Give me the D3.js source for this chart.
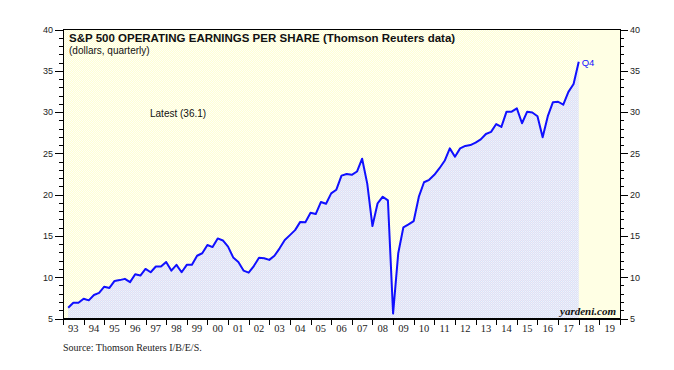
<!DOCTYPE html>
<html>
<head>
<meta charset="utf-8">
<script src="https://cdn.jsdelivr.net/npm/d3@7"></script>
<style>
  body { margin: 0; background: #fff; }
  svg { display: block; }
  .axis text { font-family: "Liberation Sans", Arial, sans-serif; font-size: 9px; fill: #222; }
  .axis path, .axis line { stroke: #000; shape-rendering: crispEdges; }
</style>
</head>
<body>
<div id="chart"></div>
<script>
// S&P 500 operating EPS, quarterly, 1993Q1 .. 2017Q4
var startYear = 1993;
var eps = [
  6.3, 6.9, 6.9, 7.4,        // 93
  7.2, 7.85, 8.1, 8.85,      // 94
  8.7, 9.55, 9.65, 9.8,      // 95
  9.4, 10.35, 10.2, 11.0,    // 96
  10.6, 11.3, 11.3, 11.85,   // 97
  10.8, 11.5, 10.6, 11.5,    // 98
  11.5, 12.6, 12.9, 13.9,    // 99
  13.65, 14.7, 14.45, 13.7,  // 00
  12.4, 11.85, 10.8, 10.55,  // 01
  11.35, 12.35, 12.3, 12.1,  // 02
  12.6, 13.5, 14.5, 15.1,    // 03
  15.7, 16.7, 16.65, 17.8,   // 04
  17.65, 19.1, 18.9, 20.15,  // 05
  20.6, 22.3, 22.5, 22.4,    // 06
  22.8, 24.35, 21.3, 16.2,   // 07
  18.95, 19.75, 19.3, 5.6,   // 08
  12.9, 16.05, 16.4, 16.8,   // 09
  19.75, 21.5, 21.8, 22.4,   // 10
  23.2, 24.1, 25.6, 24.6,    // 11
  25.6, 25.9, 26.0, 26.3,    // 12
  26.7, 27.35, 27.6, 28.55,  // 13
  28.2, 30.05, 30.05, 30.45, // 14
  28.65, 30.05, 29.95, 29.5, // 15
  26.95, 29.5, 31.2, 31.25,  // 16
  30.9, 32.45, 33.4, 36.1    // 17
];
var yearLabels = ["93","94","95","96","97","98","99","00","01","02","03","04","05","06",
                  "07","08","09","10","11","12","13","14","15","16","17","18","19"];
var yTicks = [5, 10, 15, 20, 25, 30, 35, 40];
var latest = eps[eps.length - 1];

var W = 674, H = 370;
var margin = {top: 29.5, right: 54, bottom: 51.5, left: 63};
var x0 = margin.left, x1 = W - margin.right;
var y0 = margin.top, y1 = H - margin.bottom;

var x = d3.scaleLinear().domain([1993, 2020]).range([x0, x1]);
var y = d3.scaleLinear().domain([5, 40]).range([y1, y0]);

var data = eps.map(function(v, i){ return {t: startYear + (i + 1) / 4, v: v}; });

var svg = d3.select("#chart").append("svg")
    .attr("width", W).attr("height", H);

var defs = svg.append("defs");
// dithered yellow like the original gif
var py = defs.append("pattern").attr("id","dy").attr("width",2).attr("height",2)
    .attr("patternUnits","userSpaceOnUse");
py.append("rect").attr("width",2).attr("height",2).attr("fill","#ffffd4");
py.append("rect").attr("width",1).attr("height",1).attr("fill","#fffff6");
py.append("rect").attr("x",1).attr("y",1).attr("width",1).attr("height",1).attr("fill","#fffff6");
// dithered pale blue under the line
var pb = defs.append("pattern").attr("id","db").attr("width",2).attr("height",2)
    .attr("patternUnits","userSpaceOnUse");
pb.append("rect").attr("width",2).attr("height",2).attr("fill","#dbe2f8");
pb.append("rect").attr("width",1).attr("height",1).attr("fill","#eeeaf4");
pb.append("rect").attr("x",1).attr("y",1).attr("width",1).attr("height",1).attr("fill","#f0f3fa");

var lastT = data[data.length - 1].t;

// backgrounds
svg.append("rect").attr("x", x0).attr("y", y0)
    .attr("width", x(lastT) - x0).attr("height", y1 - y0).attr("fill", "url(#dy)");
svg.append("rect").attr("x", x(lastT)).attr("y", y0)
    .attr("width", x1 - x(lastT)).attr("height", y1 - y0).attr("fill", "#ffffe4");

var area = d3.area().x(function(d){ return x(d.t); })
    .y0(y1).y1(function(d){ return y(d.v); });
svg.append("path").datum(data).attr("d", area).attr("fill", "url(#db)");

var line = d3.line().x(function(d){ return x(d.t); }).y(function(d){ return y(d.v); });
svg.append("path").datum(data).attr("d", line)
    .attr("fill", "none").attr("stroke", "#1010ff").attr("stroke-width", 2)
    .attr("stroke-linejoin", "round");

// frame
svg.append("rect").attr("x", x0).attr("y", y0).attr("width", x1 - x0).attr("height", y1 - y0)
    .attr("fill", "none").attr("stroke", "#000").attr("shape-rendering", "crispEdges");

// left axis
svg.append("g").attr("class", "axis").attr("transform", "translate(" + x0 + ",0)")
    .call(d3.axisLeft(y).tickValues(d3.range(5, 41, 1)).tickSize(4).tickFormat(""))
    .call(function(g){ g.select(".domain").remove(); });
svg.append("g").attr("class", "axis").attr("transform", "translate(" + x0 + ",0)")
    .call(d3.axisLeft(y).tickValues(yTicks).tickSize(8).tickPadding(2).tickFormat(d3.format("d")));

// right axis
svg.append("g").attr("class", "axis").attr("transform", "translate(" + x1 + ",0)")
    .call(d3.axisRight(y).tickValues(d3.range(5, 41, 1)).tickSize(4).tickFormat(""))
    .call(function(g){ g.select(".domain").remove(); });
svg.append("g").attr("class", "axis").attr("transform", "translate(" + x1 + ",0)")
    .call(d3.axisRight(y).tickValues(yTicks).tickSize(8).tickPadding(2).tickFormat(d3.format("d")));

// bottom axis: ticks at year boundaries, labels mid-year
svg.append("g").attr("class", "axis").attr("transform", "translate(0," + y1 + ")")
    .call(d3.axisBottom(x).tickValues(d3.range(1993, 2021)).tickSize(6).tickFormat(""));
svg.append("g").selectAll("text").data(yearLabels).enter().append("text")
    .attr("x", function(d, i){ return x(1993 + i + 0.5); })
    .attr("y", y1 + 13)
    .attr("text-anchor", "middle")
    .style("font-family", "'Liberation Serif', 'Times New Roman', serif")
    .style("font-size", "10.5px").style("fill", "#222")
    .text(function(d){ return d; });

// texts
svg.append("text").attr("x", 69).attr("y", 42)
    .style("font-family", "'Liberation Sans', Arial, sans-serif")
    .style("font-size", "11.5px").style("font-weight", "bold").style("fill", "#111")
    .text("S&P 500 OPERATING EARNINGS PER SHARE (Thomson Reuters data)");
svg.append("text").attr("x", 69).attr("y", 54)
    .style("font-family", "'Liberation Sans', Arial, sans-serif")
    .style("font-size", "10px").style("fill", "#111")
    .text("(dollars, quarterly)");
svg.append("text").attr("x", 150).attr("y", 117)
    .style("font-family", "'Liberation Sans', Arial, sans-serif")
    .style("font-size", "10px").style("fill", "#111")
    .text("Latest (" + latest.toFixed(1) + ")");
svg.append("text").attr("x", x(lastT) + 3).attr("y", y(latest) + 4)
    .style("font-family", "'Liberation Sans', Arial, sans-serif")
    .style("font-size", "9.5px").style("fill", "#1010ff")
    .text("Q4");
svg.append("text").attr("x", x1 - 4).attr("y", y1 - 4).attr("text-anchor", "end")
    .style("font-family", "'Liberation Serif', 'Times New Roman', serif")
    .style("font-size", "11px").style("font-weight", "bold").style("font-style", "italic")
    .style("fill", "#111")
    .text("yardeni.com");
svg.append("text").attr("x", 63).attr("y", 351)
    .style("font-family", "'Liberation Serif', 'Times New Roman', serif")
    .style("font-size", "10px").style("fill", "#222")
    .text("Source: Thomson Reuters I/B/E/S.");
</script>
</body>
</html>
